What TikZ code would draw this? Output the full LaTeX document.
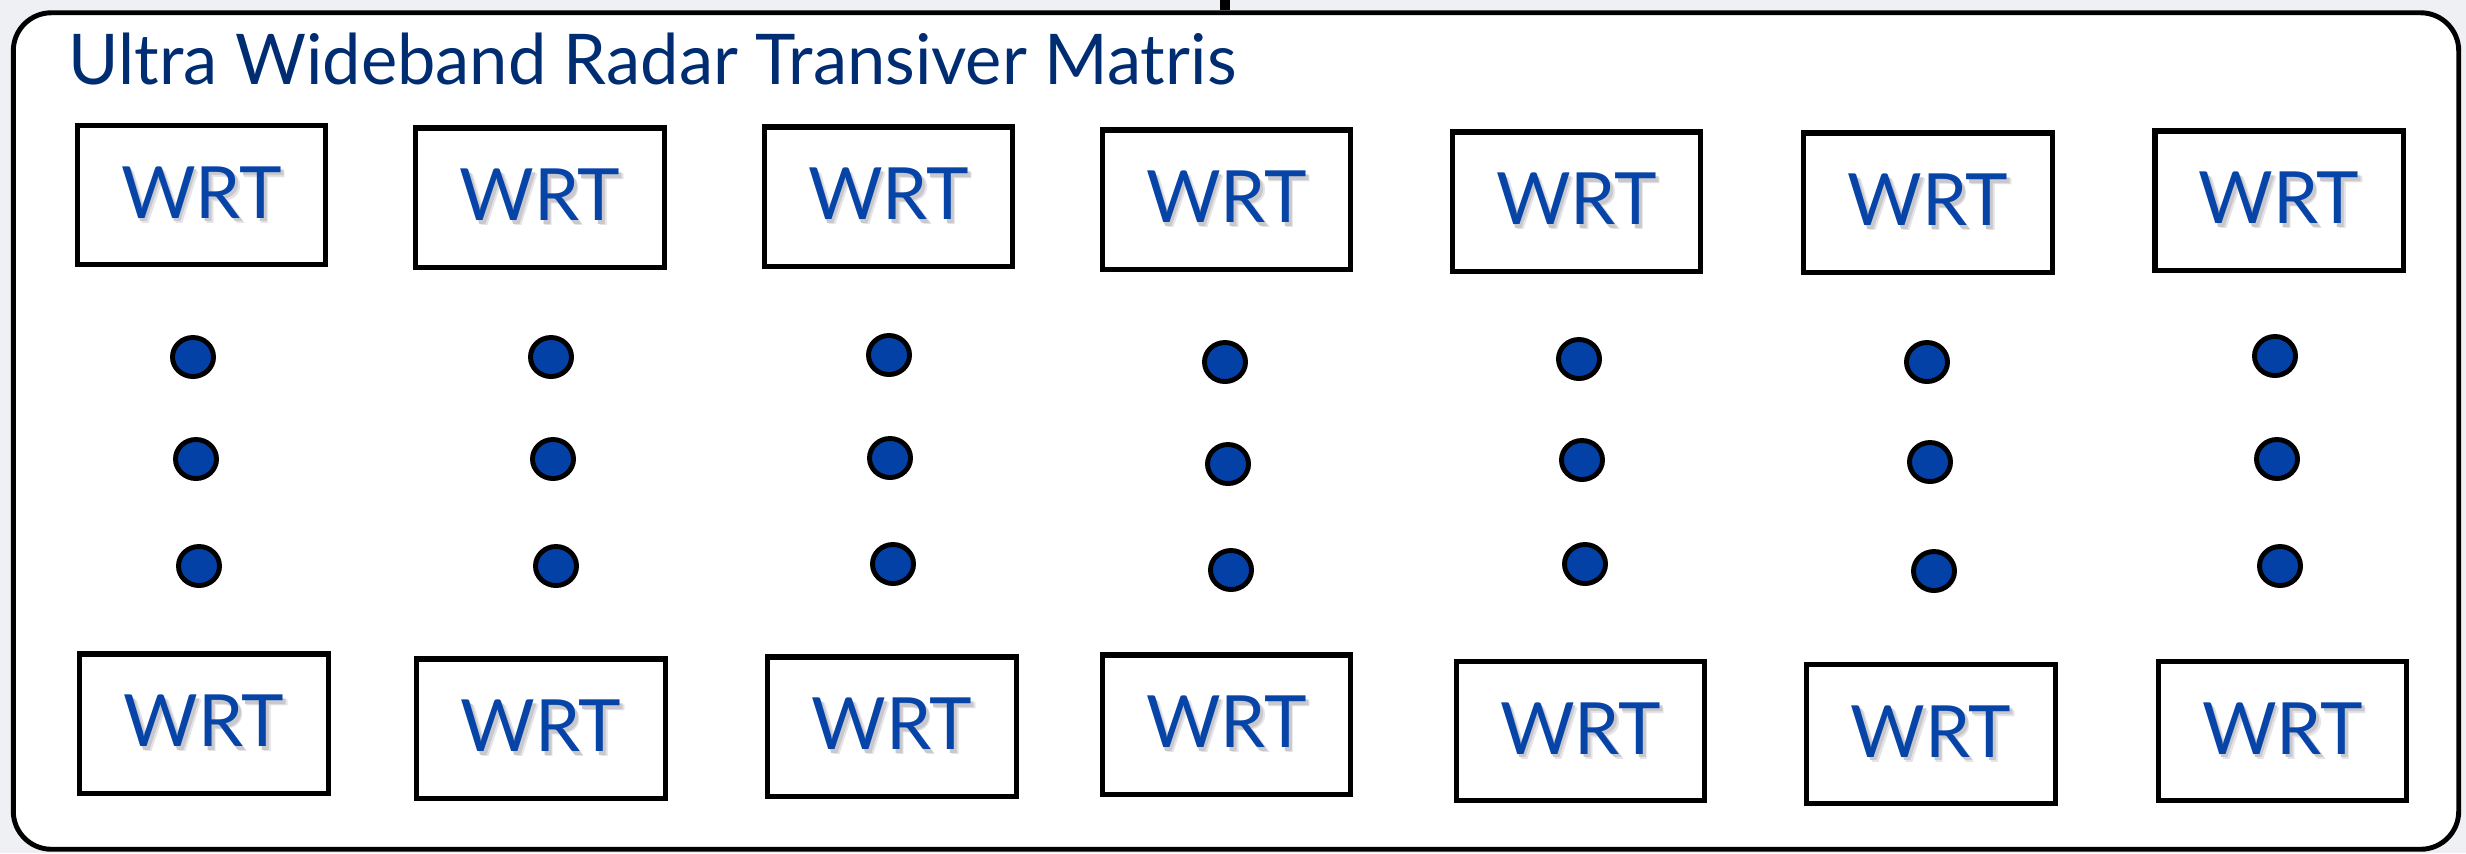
\documentclass[tikz,border=0pt]{standalone}
\usepackage{fontspec}
\setmainfont{Lato}
\usetikzlibrary{shapes.geometric}
\definecolor{titleblue}{HTML}{002D72}
\definecolor{wrtblue}{HTML}{0744A8}
\definecolor{dotblue}{HTML}{0441A7}
\definecolor{pagegray}{HTML}{EEF0F4}
\definecolor{shadowsoft}{HTML}{E4E4E8}
\definecolor{shadowgray}{HTML}{C8C8CD}
% transceiver label with a soft drop shadow (two light layers under the blue text)
\newcommand\wrtlabel{%
  \makebox[0pt][l]{\kern1.3pt\raisebox{-1.5pt}{\color{shadowsoft}WRT}}%
  \makebox[0pt][l]{\kern0.8pt\raisebox{-1.0pt}{\color{shadowgray}WRT}}%
  WRT}
\begin{document}
\begin{tikzpicture}[x=0.01cm,y=-0.01cm,
  matrixframe/.style={draw=black, line width=1.4pt, rounded corners=0.38cm, fill=white,
    minimum width=24.44cm, minimum height=8.36cm, inner sep=0pt},
  wrtbox/.style={draw=black, line width=1.45pt, fill=white, minimum width=2.48cm,
    minimum height=1.39cm, inner sep=0pt, text=wrtblue, font=\fontsize{20.5}{24}\selectfont},
  relaydot/.style={ellipse, draw=black, line width=1.4pt, fill=dotblue,
    minimum width=0.41cm, minimum height=0.39cm, inner sep=0pt},
  titletext/.style={anchor=base west, inner sep=0pt, text=titleblue, font=\fontsize{19.9}{24}\selectfont}
]
\fill[pagegray] (0,0) rectangle (2466,853);
\useasboundingbox (0,0) rectangle (2466,853);

% outer matrix frame
\node[matrixframe] (frame) at (1236,431) {};
\node[titletext] (title) at (68,84) {\scalebox{0.98}[1]{Ultra Wideband Radar Transiver Matris}};

% feed line entering from above
\coordinate (stubtop) at (1225,0);
\draw[line width=2.8pt] (stubtop) -- (stubtop |- frame.north);

% upper row of transceivers
\foreach \i/\x/\y in {1/201.5/195, 2/540/197.5, 3/888.5/196.5, 4/1226.5/199.5,
                      5/1576.5/201.5, 6/1928/202.5, 7/2279/200.5}
  \node[wrtbox] (top\i) at (\x,\y) {\wrtlabel};

% lower row of transceivers
\foreach \i/\x/\y in {1/204/723.5, 2/541/728.5, 3/892/726.5, 4/1226.5/724.5,
                      5/1580.5/731, 6/1931/734, 7/2282.5/731}
  \node[wrtbox] (bot\i) at (\x,\y) {\wrtlabel};

% ellipsis dots in every column
\foreach \i/\xa/\ya/\xb/\yb/\xc/\yc in {
    1/193/357/196/459/199/566,
    2/551/357/553/459/556/566,
    3/889/355/890/458/893/564,
    4/1225/362/1228/464/1231/570,
    5/1579/359/1582/460/1585/564,
    6/1927/362/1930/462/1934/571,
    7/2275/356/2277/459/2280/566}
{
  \node[relaydot] (dot\i a) at (\xa,\ya) {};
  \node[relaydot] (dot\i b) at (\xb,\yb) {};
  \node[relaydot] (dot\i c) at (\xc,\yc) {};
}
\end{tikzpicture}
\end{document}
